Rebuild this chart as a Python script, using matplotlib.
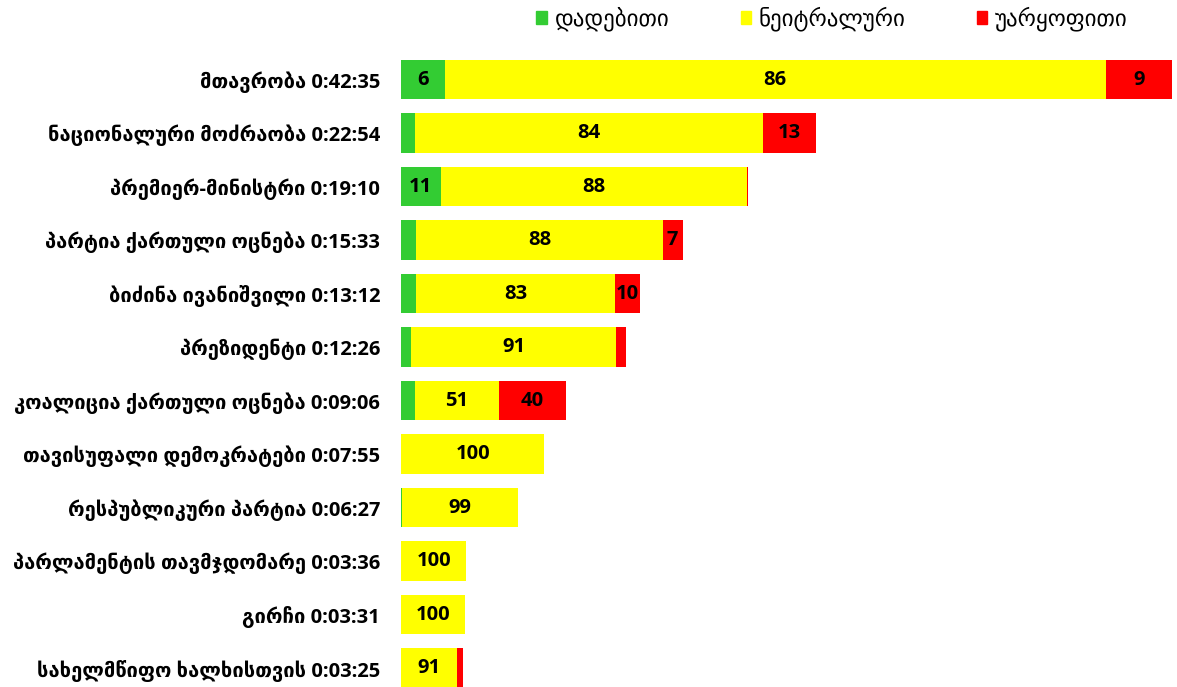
import matplotlib
matplotlib.use("Agg")
import matplotlib.pyplot as plt
from matplotlib.patches import Patch

plt.rcParams['font.family'] = ['Open Sans', 'DejaVu Sans']

# data
names = ["მთავრობა", "ნაციონალური მოძრაობა", "პრემიერ-მინისტრი",
         "პარტია ქართული ოცნება", "ბიძინა ივანიშვილი", "პრეზიდენტი",
         "კოალიცია ქართული ოცნება", "თავისუფალი დემოკრატები",
         "რესპუბლიკური პარტია", "პარლამენტის თავმჯდომარე", "გირჩი",
         "სახელმწიფო ხალხისთვის"]
times = ["0:42:35", "0:22:54", "0:19:10", "0:15:33", "0:13:12", "0:12:26",
         "0:09:06", "0:07:55", "0:06:27", "0:03:36", "0:03:31", "0:03:25"]
positive = [5.7, 3.3, 11.4, 5.4, 6.4, 4.4, 8.4, 0.0, 0.8, 0.0, 0.0, 0.0]
neutral = [85.7, 84.1, 88.2, 87.6, 83.2, 91.2, 51.2, 100.0, 99.2, 100.0, 100.0, 91.2]
negative = [8.6, 12.6, 0.4, 7.0, 10.4, 4.4, 40.4, 0.0, 0.0, 0.0, 0.0, 8.8]

series = [("დადებითი", positive, "#33CC33"),
          ("ნეიტრალური", neutral, "#FFFF00"),
          ("უარყოფითი", negative, "#FF0000")]


def to_sec(t):
    h, m, s = [int(v) for v in t.split(":")]
    return h * 3600 + m * 60 + s


secs = [to_sec(t) for t in times]
labels = ["{} {}".format(n, t) for n, t in zip(names, times)]

fig = plt.figure(figsize=(11.77, 6.87), dpi=100)
ax = fig.add_axes([0.3407, -0.0113, 0.655, 0.9345])

y = list(range(len(names)))
left = [0.0] * len(names)
for name, vals, color in series:
    widths = [s * v / 100.0 for s, v in zip(secs, vals)]
    ax.barh(y, widths, left=left, height=0.73, color=color, label=name)
    for i, (w, v) in enumerate(zip(widths, vals)):
        if w >= 58:
            ax.text(left[i] + w / 2, i, "{:.0f}".format(v), ha="center", va="center",
                    fontsize=14.5, fontweight="bold", color="black")
    left = [l + w for l, w in zip(left, widths)]

ax.set_xlim(0, max(secs))
ax.set_ylim(len(names) - 0.5, -0.5)
ax.set_yticks(y)
ax.set_yticklabels(labels, fontsize=14.5, fontweight="bold")
ax.tick_params(axis="y", length=0, pad=15)
ax.set_xticks([])
for sp in ax.spines.values():
    sp.set_visible(False)

handles = [Patch(color=c) for _, _, c in series]
fig.legend(handles, [n for n, _, _ in series], loc="center", ncol=3,
           bbox_to_anchor=(0.707, 0.972), frameon=False, fontsize=16.5,
           handlelength=0.45, handleheight=0.45, handletextpad=0.35,
           columnspacing=3.1)

fig.savefig("out.png", dpi=100)
